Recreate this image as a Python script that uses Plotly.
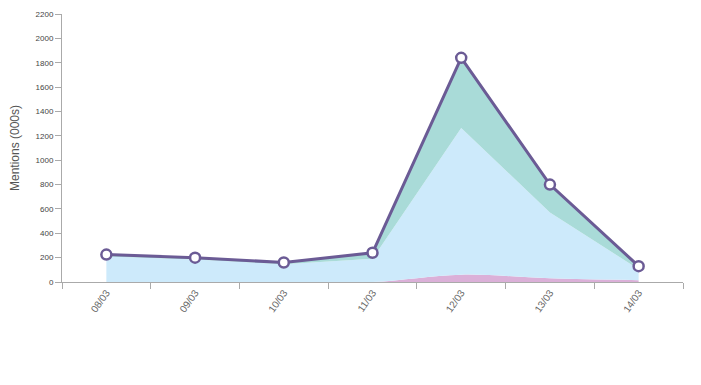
import plotly.graph_objects as go

dates = ["08/03", "09/03", "10/03", "11/03", "12/03", "13/03", "14/03"]
pink_vals = [0, 0, 0, 0, 60, 30, 15]
blue_vals = [210, 185, 145, 190, 1205, 540, 90]
teal_vals = [15, 15, 15, 50, 575, 230, 25]
total_vals = [225, 200, 160, 240, 1840, 800, 130]
y_ticks = [0, 200, 400, 600, 800, 1000, 1200, 1400, 1600, 1800, 2000, 2200]

fig = go.Figure()
fig.add_trace(go.Scatter(x=dates, y=pink_vals, stackgroup="s", mode="none",
                         fillcolor="#dbb0d8", line=dict(shape="spline", width=0)))
fig.add_trace(go.Scatter(x=dates, y=blue_vals, stackgroup="s", mode="none",
                         fillcolor="#cdeafb", line=dict(width=0)))
fig.add_trace(go.Scatter(x=dates, y=teal_vals, stackgroup="s", mode="none",
                         fillcolor="#a9dbd8", line=dict(width=0)))
fig.add_trace(go.Scatter(x=dates, y=total_vals, mode="lines+markers",
                         line=dict(color="#6b5b95", width=3),
                         marker=dict(size=10, color="white",
                                     line=dict(color="#6b5b95", width=2.5))))

fig.update_layout(
    width=701, height=385,
    margin=dict(l=54, r=26, t=6, b=111),
    plot_bgcolor="white", paper_bgcolor="white",
    showlegend=False,
    font=dict(family="Liberation Sans, Arial, sans-serif", color="#555"),
)
fig.update_xaxes(type="category", range=[-0.5, 6.5], tickson="boundaries",
                 showline=True, linecolor="#aaa", linewidth=1,
                 ticks="outside", ticklen=6, tickcolor="#aaa",
                 showgrid=False, tickangle=-55, automargin=False,
                 tickfont=dict(size=10, color="#666"))
fig.update_yaxes(range=[0, 2200], tickvals=y_ticks,
                 showline=True, linecolor="#aaa", linewidth=1,
                 ticks="outside", ticklen=6, tickcolor="#aaa",
                 showgrid=False, zeroline=False, ticklabeloverflow="allow",
                 automargin=False,
                 tickfont=dict(size=8, color="#444"),
                 title=dict(text="Mentions (000s)", font=dict(size=12, color="#555"),
                            standoff=14))

fig.write_html("out.html")
